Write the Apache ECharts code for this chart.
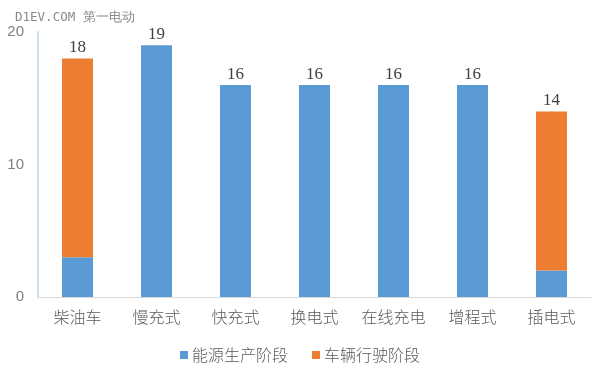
<!DOCTYPE html>
<html><head><meta charset="utf-8">
<script src="https://cdn.jsdelivr.net/npm/echarts@6/dist/echarts.min.js"></script>
<style>html,body{margin:0;padding:0;background:#fff}#c{width:600px;height:375px}</style>
</head><body><div id="c"></div>
<script>
var categories = ['柴油车','慢充式','快充式','换电式','在线充电','增程式','插电式'];
var energyStage = [3,19,16,16,16,16,2];
var drivingStage = [15,0,0,0,0,0,12];
var yTicks = [0,10,20];

var labelStyle = {show:true, position:'top', color:'#404040', fontSize:17, fontFamily:'Liberation Serif, serif', distance:2};
var blueData = energyStage.map(function(v,i){
  var total = v + drivingStage[i];
  return drivingStage[i] ? {value:v} : {value:v, label:Object.assign({}, labelStyle, {formatter:String(total)})};
});
var orangeData = drivingStage.map(function(v,i){
  var total = v + energyStage[i];
  return v ? {value:v, label:Object.assign({}, labelStyle, {formatter:String(total)})} : {value:null};
});

var chart = echarts.init(document.getElementById('c'), null, {renderer:'canvas'});
chart.setOption({
  animation:false,
  graphic:[{type:'text', left:15, top:11, style:{text:'D1EV.COM 第一电动', fill:'#8a8a8a', font:'12.5px "DejaVu Sans Mono", monospace'}}],
  legend:{bottom:7, left:'center', itemWidth:8, itemHeight:8, itemGap:24, icon:'rect',
    textStyle:{color:'#595959', fontSize:16, fontFamily:'Noto Sans CJK SC', fontWeight:300, padding:[0,0,0,-1]}, data:['能源生产阶段','车辆行驶阶段']},
  grid:{left:38, right:9, top:32, bottom:78},
  xAxis:{type:'category', data:categories,
    axisLine:{lineStyle:{color:'#d9d9d9'}}, axisTick:{show:false},
    axisLabel:{interval:0, color:'#595959', fontSize:16, fontWeight:300, fontFamily:'Noto Sans CJK SC', margin:12}},
  yAxis:{type:'value', min:yTicks[0], max:yTicks[yTicks.length-1], interval:10,
    axisLine:{show:true, lineStyle:{color:'#cfdeec', width:2}}, axisTick:{show:false}, splitLine:{show:false},
    axisLabel:{color:'#7f7f7f', fontSize:15, fontFamily:'Liberation Sans, sans-serif', margin:14}},
  series:[
    {name:'能源生产阶段', type:'bar', stack:'a', data:blueData, barWidth:31, itemStyle:{color:'#5B9BD5'}},
    {name:'车辆行驶阶段', type:'bar', stack:'a', data:orangeData, barWidth:31, itemStyle:{color:'#ED7D31'}}
  ]
});
</script></body></html>
